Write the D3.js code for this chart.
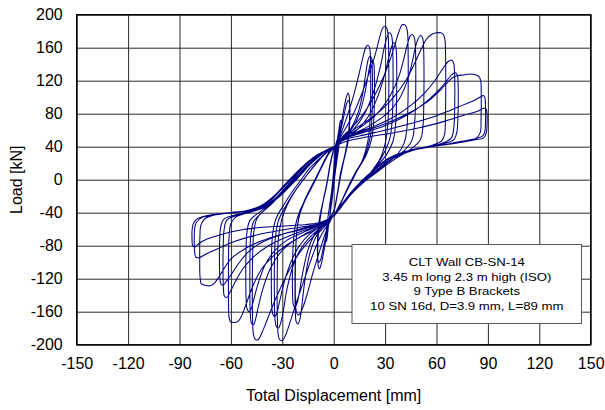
<!DOCTYPE html>
<html>
<head>
<meta charset="utf-8">
<script src="https://cdn.jsdelivr.net/npm/d3@7"></script>
<style>
  html, body { margin: 0; padding: 0; background: #fff; }
  svg text { font-family: "Liberation Sans", Arial, Helvetica, sans-serif; fill: #000; }
</style>
</head>
<body>
<svg id="chart" width="605" height="410"></svg>
<script>
// ---------------- DATA ----------------
const xTicks = [-150, -120, -90, -60, -30, 0, 30, 60, 90, 120, 150];
const yTicks = [-200, -160, -120, -80, -40, 0, 40, 80, 120, 160, 200];
const xTitle = "Total Displacement [mm]";
const yTitle = "Load [kN]";
const legendLines = [
  "CLT Wall CB-SN-14",
  "3.45 m long 2.3 m high (ISO)",
  "9 Type B Brackets",
  "10 SN 16d, D=3.9 mm, L=89 mm"
];

// Each cycle is a list of [displacement mm, load kN] points
const smallCycles = [
  [[0,0],[1,20],[2,38],[2.5,48],[2.3,40],[1.2,15],[0,-5],[-1,-25],[-2,-40],[-2.5,-50],[-2.2,-42],[-1,-15],[0,10],[1,30],[1.5,40]],
  [[1.5,40],[3,60],[4,72],[4.4,69],[3.3,45],[1,10],[-1,-25],[-3,-55],[-4.2,-75],[-4.6,-71],[-3.3,-45],[-1,-10],[0.5,25],[1,41]]
];

const cycles8mm = [
  [[1,41],[3,55],[5,75],[6.5,92],[7.5,101],[8.3,105],[9,102],[9.3,92],[9.2,72],[8.4,52],[6.5,30],[4,8],[2,-18],[0,-38],[-2,-46],[-3.5,-60],[-5,-78],[-6.5,-95],[-7.5,-104],[-8.3,-108],[-9,-105],[-9.3,-95],[-9.2,-75],[-8.4,-55],[-6.5,-30],[-4,-6],[-2,18],[0,36],[1,41]],
  [[1,41],[3,52],[5,68],[6.8,86],[7.8,94],[8.6,96],[9.3,92],[9.5,80],[9.2,62],[8.2,44],[6,24],[4,4],[2,-20],[0,-39],[-2,-46],[-3.5,-58],[-5,-72],[-6.8,-90],[-7.8,-98],[-8.6,-100],[-9.3,-96],[-9.5,-83],[-9.2,-64],[-8.2,-46],[-6,-24],[-4,-4],[-2,20],[0,37],[1,41]]
];

const cycles20mm = [
  [[1,41],[4,55],[8,78],[12,105],[15,130],[17,148],[18.5,159],[19.7,163],[20.8,161],[21.4,150],[21.6,125],[21.5,92],[21,65],[19.8,45],[17,25],[13,8],[9,-8],[5,-25],[2,-38],[-1,-46],[-4,-60],[-8,-85],[-12,-112],[-15,-135],[-18,-155],[-19.6,-162],[-20.8,-164],[-21.8,-160],[-22.3,-146],[-22.4,-120],[-22.2,-88],[-21.5,-62],[-20,-43],[-17,-25],[-13,-8],[-9,8],[-5,25],[-2,36],[1,41]],
  [[1,41],[5,50],[10,62],[14,80],[17,105],[19,133],[20.2,146],[21.2,150],[22.1,147],[22.5,135],[22.6,108],[22.3,75],[21.2,50],[18,28],[13,10],[9,-6],[5,-24],[2,-37],[-1,-46],[-5,-56],[-10,-68],[-14,-90],[-17,-125],[-18.7,-155],[-19.8,-170],[-20.9,-175],[-21.9,-172],[-22.4,-158],[-22.6,-130],[-22.4,-95],[-21.6,-65],[-19.8,-42],[-16,-22],[-12,-5],[-8,12],[-4,28],[-1,37],[1,41]],
  [[1,41],[6,51],[11,63],[15,80],[18,103],[20,126],[21.3,140],[22.4,145],[23.3,142],[23.7,130],[23.8,105],[23.4,72],[22.2,50],[19,30],[14,12],[10,-4],[6,-20],[2,-36],[-1,-46],[-6,-55],[-11,-66],[-15,-85],[-18,-112],[-20,-136],[-21.4,-150],[-22.6,-155],[-23.6,-151],[-24,-138],[-24.1,-112],[-23.7,-82],[-22.6,-58],[-19.8,-38],[-15,-18],[-11,-2],[-7,15],[-3,31],[1,41]]
];

const cycles30mm = [
  [[1,41],[4,52],[8,66],[12,82],[16,102],[20,125],[24,150],[26.5,170],[28,181],[29.5,186],[30.9,184],[31.8,174],[32.1,150],[32.2,118],[32,85],[31.3,60],[29.8,42],[27,25],[22,10],[17,-2],[12,-13],[7,-26],[3,-37],[-1,-46],[-4,-56],[-8,-70],[-12,-90],[-17,-120],[-22,-150],[-25.5,-173],[-28,-188],[-30,-195],[-31.5,-194],[-32.5,-186],[-32.9,-165],[-33,-130],[-32.8,-95],[-32.1,-68],[-30.3,-48],[-27,-30],[-22,-12],[-17,2],[-12,15],[-7,27],[-3,36],[1,41]],
  [[1,41],[6,50],[12,62],[18,80],[23,105],[27,135],[29.5,160],[31,172],[32.4,178],[33.6,176],[34.3,166],[34.6,142],[34.6,108],[34.2,75],[33,52],[30,35],[26,20],[21,7],[15,-6],[10,-18],[5,-31],[1,-42],[-1,-46],[-6,-56],[-12,-66],[-18,-80],[-23,-100],[-27,-130],[-29.5,-160],[-31,-174],[-32.3,-180],[-33.5,-178],[-34.3,-168],[-34.6,-142],[-34.6,-102],[-34.1,-72],[-32.3,-50],[-28,-32],[-23,-15],[-18,-1],[-13,13],[-8,25],[-3,35],[1,41]],
  [[1,41],[7,50],[14,61],[20,76],[25,97],[29,122],[32,147],[33.5,159],[34.9,166],[36,164],[36.6,154],[36.8,130],[36.7,96],[36.1,66],[34.5,46],[31,31],[26,18],[21,6],[15,-6],[10,-18],[5,-31],[1,-42],[-1,-46],[-7,-56],[-14,-66],[-20,-80],[-25,-100],[-29,-125],[-31.5,-147],[-33,-160],[-34.3,-166],[-35.5,-163],[-36.2,-152],[-36.4,-128],[-36.3,-92],[-35.6,-65],[-33.6,-47],[-29,-30],[-24,-14],[-19,0],[-14,14],[-8,26],[-3,36],[1,41]]
];

const cycles45mm = [
  [[1,41],[5,52],[10,62],[16,76],[22,95],[27,115],[32,140],[35.5,162],[38,179],[40.2,188],[41.9,187],[43,180],[43.4,160],[43.5,125],[43.3,90],[42.7,62],[41.2,45],[37,30],[31,20],[25,10],[19,0],[13,-11],[7,-25],[3,-37],[-1,-46],[-5,-56],[-10,-65],[-16,-78],[-22,-95],[-28,-118],[-34,-145],[-38.5,-168],[-41.8,-185],[-44.2,-194],[-46,-193],[-47,-185],[-47.4,-165],[-47.5,-130],[-47.3,-90],[-46.6,-63],[-44.8,-47],[-40,-36],[-34,-24],[-28,-11],[-22,2],[-16,15],[-10,27],[-4,36],[1,41]],
  [[1,41],[6,51],[13,60],[20,70],[27,84],[33,102],[38,125],[41,147],[43,164],[44.6,174],[45.9,176],[47.1,172],[47.7,160],[47.9,135],[47.8,98],[47.2,68],[45.7,48],[41,35],[35,26],[28,15],[21,4],[15,-7],[9,-20],[4,-34],[0,-44],[-2,-47],[-8,-56],[-16,-65],[-24,-75],[-31,-88],[-37,-108],[-41,-130],[-44,-154],[-45.6,-169],[-46.8,-176],[-48,-174],[-48.7,-162],[-48.9,-140],[-48.9,-100],[-48.4,-68],[-46.8,-51],[-42,-40],[-36,-29],[-30,-16],[-24,-2],[-18,12],[-12,24],[-6,33],[-1,39],[1,41]],
  [[1,41],[7,51],[15,59],[23,68],[31,80],[38,97],[43,120],[46,144],[48,163],[49.6,172],[50.9,175],[52,171],[52.5,158],[52.7,132],[52.6,95],[52.1,65],[50.5,48],[45,37],[38,28],[31,18],[24,7],[17,-4],[11,-16],[6,-28],[2,-39],[-2,-47],[-9,-56],[-18,-64],[-27,-73],[-34,-85],[-40,-103],[-44,-125],[-46.5,-144],[-48.1,-156],[-49.3,-160],[-50.5,-157],[-51.1,-145],[-51.3,-122],[-51.2,-88],[-50.6,-63],[-48.8,-49],[-43,-39],[-37,-29],[-31,-16],[-25,-2],[-19,12],[-13,24],[-7,33],[-2,38],[1,41]]
];

const cycles60mm = [
  [[1,41],[5,51],[12,61],[20,72],[28,85],[35,100],[42,120],[47,140],[51,158],[54,170],[57,176],[60,178],[62.5,178],[64,176],[64.9,170],[65.3,150],[65.4,110],[65.2,75],[64.7,55],[63,47],[58,42],[50,38],[42,33],[34,25],[27,15],[20,3],[14,-8],[8,-22],[3,-36],[-1,-46],[-5,-55],[-12,-62],[-20,-70],[-28,-80],[-35,-92],[-42,-108],[-47,-128],[-51,-150],[-54,-166],[-56,-172],[-58.5,-173],[-60.3,-172],[-61.1,-166],[-61.4,-140],[-61.4,-100],[-61.1,-70],[-60,-53],[-57,-45],[-50,-40],[-42,-34],[-35,-25],[-28,-12],[-22,0],[-16,14],[-10,26],[-4,36],[1,41]],
  [[1,41],[6,50],[15,58],[25,66],[35,76],[45,90],[53,105],[59,120],[63.5,134],[66.7,143],[68.6,145],[69.9,142],[70.5,132],[70.7,112],[70.6,86],[70.1,63],[68.5,50],[63,44],[55,40],[45,36],[36,29],[28,19],[21,6],[15,-5],[9,-19],[4,-33],[0,-44],[-2,-47],[-8,-55],[-18,-62],[-28,-70],[-38,-80],[-46,-92],[-53,-108],[-57.5,-124],[-60.7,-137],[-62.5,-143],[-63.8,-141],[-64.4,-130],[-64.6,-110],[-64.5,-83],[-64,-61],[-62.4,-49],[-56,-43],[-48,-39],[-40,-33],[-33,-23],[-26,-9],[-20,4],[-14,18],[-8,29],[-3,37],[1,41]],
  [[1,41],[7,50],[17,57],[28,64],[38,73],[48,85],[56,98],[62,110],[66,120],[68.8,127],[70.8,130],[72.1,127],[72.6,116],[72.7,98],[72.5,76],[71.9,58],[70.3,49],[65,44],[57,40],[47,36],[38,29],[30,20],[23,8],[16,-4],[10,-17],[5,-30],[1,-41],[-2,-46],[-9,-54],[-20,-60],[-31,-67],[-41,-75],[-49,-86],[-55,-100],[-59.5,-114],[-62.6,-123],[-64.6,-128],[-65.9,-126],[-66.5,-116],[-66.7,-98],[-66.6,-76],[-66,-58],[-64.2,-48],[-58,-43],[-50,-39],[-42,-34],[-35,-24],[-28,-10],[-22,3],[-16,16],[-10,27],[-4,36],[1,41]]
];

const cycles85mm = [
  [[1,41],[6,50],[15,57],[25,64],[35,72],[45,82],[55,95],[62,108],[66,117],[69,123],[72,126],[76,127],[80,128],[83,127],[84.8,125],[85.8,120],[86.1,100],[86,75],[85.5,57],[83,50],[78,47],[70,44],[60,41],[50,38],[40,33],[32,26],[25,15],[19,3],[13,-9],[8,-22],[4,-33],[0,-43],[-2,-46],[-8,-54],[-18,-60],[-30,-66],[-42,-74],[-52,-84],[-60,-96],[-64,-108],[-67,-118],[-69.5,-125],[-72,-128.5],[-75,-128],[-77.3,-126],[-78,-118],[-78.2,-95],[-78.1,-70],[-77.5,-55],[-75,-47],[-68,-42],[-58,-40],[-48,-37],[-40,-30],[-33,-17],[-27,-4],[-21,10],[-15,22],[-9,31],[-3,37],[1,41]],
  [[1,41],[6,48],[15,53],[30,60],[45,68],[58,76],[68,84],[76,91],[82,96],[85.8,100.5],[87.4,102],[88.3,99],[88.6,88],[88.6,70],[88.2,58],[87,53],[83,50],[76,47],[66,43],[56,40],[46,36],[38,31],[30,23],[23,11],[16,-2],[10,-16],[5,-29],[1,-41],[-2,-46],[-8,-53],[-18,-57],[-30,-61],[-45,-67],[-58,-75],[-68,-84],[-74.5,-90],[-78.6,-94.5],[-80.4,-94],[-81.2,-86],[-81.4,-72],[-81.2,-60],[-80.2,-52],[-77,-46],[-70,-43],[-60,-40],[-50,-37],[-42,-31],[-35,-20],[-29,-7],[-24,4],[-18,16],[-12,26],[-6,34],[-1,39],[1,41]],
  [[1,41],[8,47],[20,52],[35,57],[50,63],[65,71],[76,78],[84,83],[87.6,86.5],[89,85.5],[89.5,79],[89.5,67],[89.1,57],[87.7,51],[82,48],[74,45],[64,42],[54,39],[44,35],[36,29],[28,20],[21,7],[15,-4],[9,-18],[4,-32],[0,-43],[-2,-46],[-8,-52],[-20,-55],[-37,-57],[-52,-60],[-65,-66],[-74,-72],[-79,-78],[-81.2,-81.5],[-82.3,-80],[-82.7,-71],[-82.6,-60],[-81.9,-53],[-80,-48],[-75,-44],[-66,-41],[-56,-39],[-46,-36],[-38,-27],[-31,-13],[-26,-2],[-20,11],[-14,23],[-8,31],[-3,37],[1,41]]
];

// ---------------- LAYOUT ----------------
const svg = d3.select("#chart");
const plot = { left: 76.7, top: 14.7, right: 590.7, bottom: 344.7 };

const x = d3.scaleLinear().domain([-150, 150]).range([plot.left, plot.right]);
const y = d3.scaleLinear().domain([-200, 200]).range([plot.bottom, plot.top]);
const fmt = d => String(d);   // plain hyphen-minus, as in the reference

// grid
const gx = svg.append("g").attr("transform", `translate(0,${plot.bottom})`)
  .call(d3.axisBottom(x).tickValues(xTicks).tickSize(-(plot.bottom - plot.top)).tickFormat(""));
gx.select(".domain").remove();
gx.selectAll("line").attr("stroke", "#2a2a2a").attr("stroke-width", 1);

const gy = svg.append("g").attr("transform", `translate(${plot.left},0)`)
  .call(d3.axisLeft(y).tickValues(yTicks).tickSize(-(plot.right - plot.left)).tickFormat(""));
gy.select(".domain").remove();
gy.selectAll("line").attr("stroke", "#2a2a2a").attr("stroke-width", 1);

// tick labels
const ax = svg.append("g").attr("transform", `translate(0,${plot.bottom})`)
  .call(d3.axisBottom(x).tickValues(xTicks).tickSize(0).tickPadding(13).tickFormat(fmt));
ax.select(".domain").remove();
ax.selectAll("text").attr("font-size", 16).attr("font-family", "Liberation Sans, Arial, sans-serif").attr("fill", "#000");

const ay = svg.append("g").attr("transform", `translate(${plot.left},0)`)
  .call(d3.axisLeft(y).tickValues(yTicks).tickSize(0).tickPadding(14).tickFormat(fmt));
ay.select(".domain").remove();
ay.selectAll("text").attr("font-size", 16).attr("font-family", "Liberation Sans, Arial, sans-serif").attr("fill", "#000");

// data trace (one continuous test record)
const allCycles = [smallCycles, cycles8mm, cycles20mm, cycles30mm, cycles45mm, cycles60mm, cycles85mm].flat();
const trace = [];
allCycles.forEach(c => c.forEach(p => {
  const last = trace[trace.length - 1];
  if (!last || last[0] !== p[0] || last[1] !== p[1]) trace.push(p);
}));

const line = d3.line()
  .x(d => x(d[0]))
  .y(d => y(d[1]))
  .curve(d3.curveCatmullRom.alpha(0.5));

svg.append("path")
  .datum(trace)
  .attr("d", line)
  .attr("fill", "none")
  .attr("stroke", "#000080")
  .attr("stroke-width", 1.05)
  .attr("stroke-linejoin", "round");

// plot frame
svg.append("rect")
  .attr("x", plot.left).attr("y", plot.top)
  .attr("width", plot.right - plot.left).attr("height", plot.bottom - plot.top)
  .attr("fill", "none").attr("stroke", "#000").attr("stroke-width", 1.3);

// legend box
const lg = { x0: 352, y0: 244.5, x1: 581.5, y1: 323.5 };
svg.append("rect")
  .attr("x", lg.x0).attr("y", lg.y0)
  .attr("width", lg.x1 - lg.x0).attr("height", lg.y1 - lg.y0)
  .attr("fill", "#fff").attr("stroke", "#555").attr("stroke-width", 1);
const cx = (lg.x0 + lg.x1) / 2;
const lineY = [266.2, 281.2, 295.4, 309.6];
legendLines.forEach((t, i) => {
  svg.append("text")
    .attr("transform", `translate(${cx},${lineY[i]}) scale(1.2,1)`)
    .attr("text-anchor", "middle")
    .attr("font-size", 11)
    .text(t);
});

// axis titles
svg.append("text")
  .attr("x", (plot.left + plot.right) / 2).attr("y", 401)
  .attr("text-anchor", "middle").attr("font-size", 16)
  .text(xTitle);
svg.append("text")
  .attr("transform", `translate(21.5,${(plot.top + plot.bottom) / 2}) rotate(-90)`)
  .attr("text-anchor", "middle").attr("font-size", 16)
  .text(yTitle);
</script>
</body>
</html>
